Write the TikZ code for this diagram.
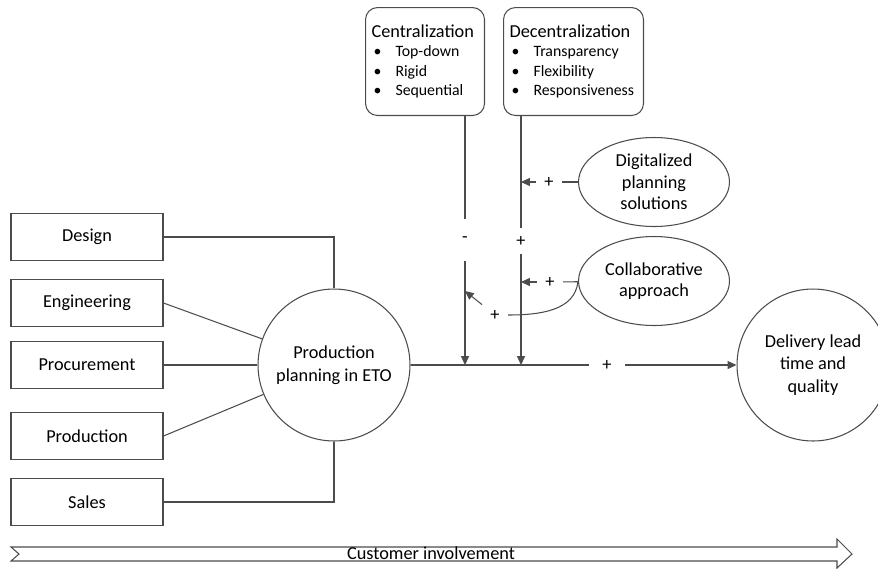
\documentclass[tikz,border=0pt]{standalone}
\usepackage{fontspec}
\setmainfont{Carlito}
\usetikzlibrary{shapes.geometric,positioning,arrows.meta}

\newcommand{\itm}[1]{\hspace*{0.04cm}\makebox[0.44cm][l]{\textbullet}#1}
\newcommand{\ttl}[1]{{\fontsize{10.4}{11}\selectfont #1}}

\begin{document}
\begin{tikzpicture}[x=0.02cm,y=-0.02cm, line width=0.6pt,
    font=\fontsize{10.4}{12}\selectfont,
    box/.style={draw=black!70, minimum width=3.04cm, minimum height=0.94cm, inner sep=0pt},
    bubble/.style={draw=black!70, circle, minimum size=3.04cm, inner sep=0pt, align=center, font=\fontsize{10.4}{12.8}\selectfont},
    oval/.style={draw=black!70, ellipse, minimum width=3.02cm, minimum height=1.78cm, inner sep=0pt, align=center, font=\fontsize{10.4}{12.2}\selectfont},
    group/.style={draw=black!70, rounded corners=0.24cm, anchor=north west, minimum height=2.16cm, inner xsep=0.12cm, inner ysep=0pt, align=left, font=\fontsize{9}{11.1}\selectfont},
    link/.style={draw=black!70},
    tip/.style={draw=black!70, -{Triangle[length=5pt,width=4.5pt]}},
    sign/.style={inner sep=0pt, minimum width=0.5cm, minimum height=0.5cm}]
    \useasboundingbox (0,0) rectangle (878,569);

    % Departments
    \node[box] (design) at (87,237) {Design};
    \node[box] (eng) at (87,303) {Engineering};
    \node[box] (proc) at (87,365) {Procurement};
    \node[box] (prodn) at (87,436) {Production};
    \node[box] (sales) at (87,502) {Sales};

    % Planning and outcome
    \node[bubble] (plan) at (334,365) {Production\\planning in ETO};
    \node[bubble] (deliv) at (813,365) {Delivery lead\\time and\\quality};

    % Planning approaches
    \node[group, text width=2.14cm] (cen) at (365,7) {\ttl{Centralization}\\\itm{Top-down}\\\itm{Rigid}\\\itm{Sequential}};
    \node[group, text width=2.56cm] (dec) at (503,7) {\ttl{Decentralization}\\\itm{Transparency}\\\itm{Flexibility}\\\itm{Responsiveness}};

    % Moderators
    \node[oval] (digi) at (654,182) {Digitalized\\planning\\solutions};
    \node[oval] (collab) at (654,281) {Collaborative\\approach};

    % Signs
    \node[sign, minimum width=0.7cm] (pmain) at (607,365) {+};
    \node[sign, minimum height=0.8cm] (cminus) at (465,240) {-};
    \node[sign] (dplus) at (521,241) {+};
    \node[sign] (dsign) at (549,182) {+};
    \node[sign] (csign) at (550,282) {+};
    \node[sign] (cplus) at (495,315) {+};
    \coordinate (chit) at (465,291);

    % Links
    \draw[link] (design.east) -| (plan.north);
    \draw[link] (eng.east) -- (plan);
    \draw[link] (proc) -- (plan);
    \draw[link] (prodn.east) -- (plan);
    \draw[link] (sales.east) -| (plan.south);
    \draw[link] (plan) -- (pmain);
    \draw[tip] (pmain) -- (deliv);
    \draw[link] (cen.south -| cminus) -- (cminus);
    \draw[tip] (cminus) -- (cminus |- plan);
    \draw[link] (dec.south -| dplus) -- (dplus);
    \draw[tip] (dplus) -- (dplus |- plan);
    \draw[link] (digi) -- (dsign);
    \draw[tip] (dsign) -- (dsign -| dplus);
    \draw[link] (collab) -- (csign);
    \draw[tip] (csign) -- (csign -| dplus);
    \draw[link] (collab.west) to[out=-95,in=0] (cplus.east);
    \draw[tip] (cplus) -- (chit);

    % Customer involvement
    \draw[black!70] (11,547) -- (837,547) -- (837,539) -- (852,554) -- (837,568) -- (837,561) -- (11,561) -- (19,554) -- cycle;
    \node (cust) at (431,553) {Customer involvement};
\end{tikzpicture}
\end{document}
